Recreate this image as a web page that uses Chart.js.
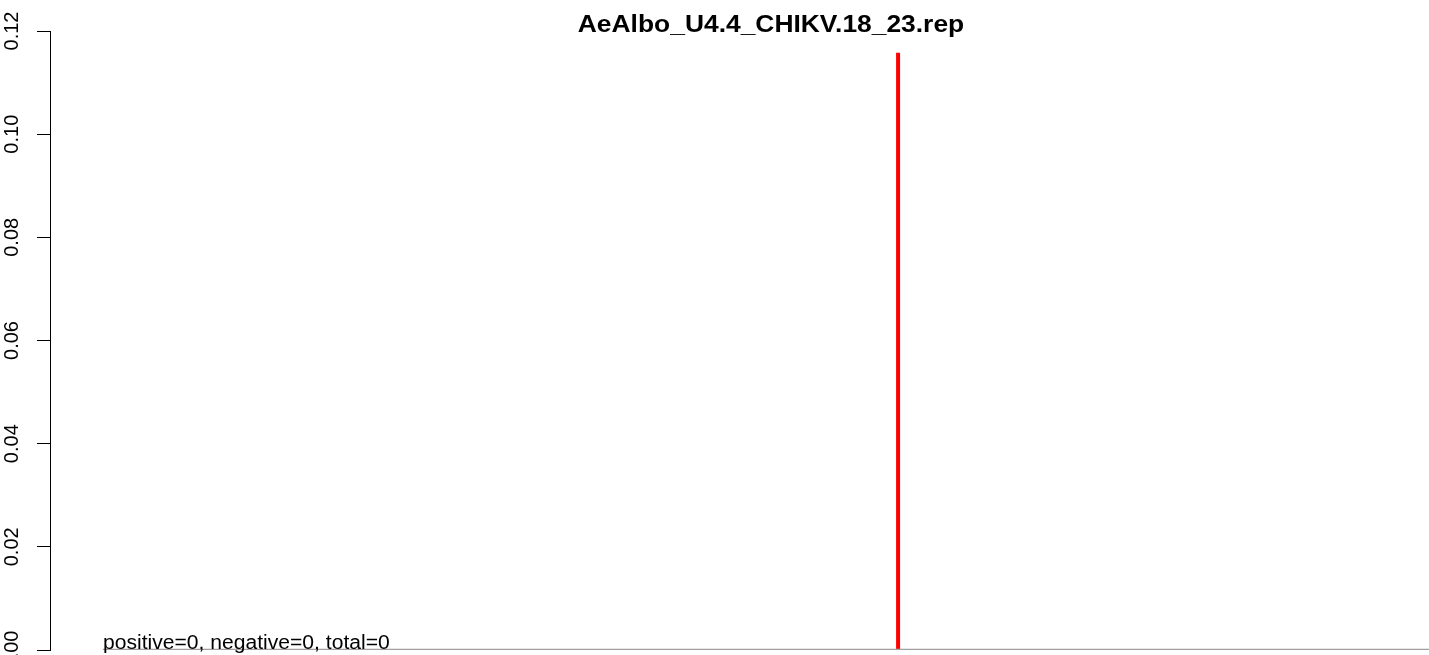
<!DOCTYPE html>
<html>
<head>
<meta charset="utf-8">
<script src="https://cdn.jsdelivr.net/npm/chart.js@4.4.1/dist/chart.umd.min.js"></script>
<style>
html,body{margin:0;padding:0;background:#fff;}
canvas{display:block;}
</style>
</head>
<body>
<canvas id="c" width="1429" height="655"></canvas>
<script>
// ---- data ----
const chartTitle = "AeAlbo_U4.4_CHIKV.18_23.rep";
const summaryText = "positive=0, negative=0, total=0";
const yTickValues = [0, 0.02, 0.04, 0.06, 0.08, 0.10, 0.12];
const yTickLabels = ["0.00", "0.02", "0.04", "0.06", "0.08", "0.10", "0.12"];
const xRange = [0, 1000];
const baselineX = [38.4, 1000];
const baselineY = [0, 0];
const peakX = [615, 615];
const peakY = [0, 0.1158];
const summaryX = 38.4;

function stretchedText(ctx, text, x, y, sx, align) {
  ctx.save();
  ctx.translate(x, y);
  ctx.scale(sx, 1);
  ctx.textAlign = align;
  ctx.fillText(text, 0, 0);
  ctx.restore();
}

const overlay = {
  id: 'overlay',
  afterDraw(chart) {
    const ctx = chart.ctx;
    const ys = chart.scales.y, xs = chart.scales.x;
    ctx.save();
    ctx.fillStyle = '#000';
    ctx.textBaseline = 'alphabetic';
    // y tick labels, rotated like R
    ctx.font = '20px "Liberation Sans", Arial, sans-serif';
    ctx.textAlign = 'center';
    yTickValues.forEach((v, i) => {
      const py = ys.getPixelForValue(v);
      ctx.save();
      ctx.translate(18, py);
      ctx.rotate(-Math.PI / 2);
      ctx.fillText(yTickLabels[i], 0, 0);
      ctx.restore();
    });
    // title
    ctx.font = 'bold 24px "Liberation Sans", Arial, sans-serif';
    stretchedText(ctx, chartTitle, 771, 31.5, 1.1, 'center');
    // summary text
    ctx.font = '20px "Liberation Sans", Arial, sans-serif';
    stretchedText(ctx, summaryText, xs.getPixelForValue(summaryX), ys.getPixelForValue(0) - 1, 1.055, 'left');
    ctx.restore();
  }
};

new Chart(document.getElementById('c'), {
  type: 'line',
  data: {
    datasets: [
      {
        data: baselineX.map((x, i) => ({x, y: baselineY[i]})),
        borderColor: '#a0a0a0', borderWidth: 2.5, pointRadius: 0, fill: false
      },
      {
        data: peakX.map((x, i) => ({x, y: peakY[i]})),
        borderColor: '#ff0000', borderWidth: 4, pointRadius: 0, fill: false,
        borderCapStyle: 'butt'
      }
    ]
  },
  options: {
    responsive: false,
    devicePixelRatio: 1,
    animation: false,
    layout: { padding: { top: 31, bottom: 5, left: 0, right: 0 } },
    plugins: { legend: { display: false }, tooltip: { enabled: false }, title: { display: false } },
    scales: {
      x: { type: 'linear', min: xRange[0], max: xRange[1], display: false },
      y: {
        type: 'linear', min: 0, max: 0.12,
        afterBuildTicks(s) { s.ticks = yTickValues.map(v => ({value: v})); },
        afterFit(s) { s.width = 50; s.paddingTop = 0; s.paddingBottom = 0; },
        ticks: { display: false },
        grid: { drawOnChartArea: false, drawTicks: true, tickLength: 13, tickColor: '#000', color: '#000', lineWidth: 1 },
        border: { display: true, color: '#000', width: 1 }
      }
    }
  },
  plugins: [overlay]
});
</script>
</body>
</html>
